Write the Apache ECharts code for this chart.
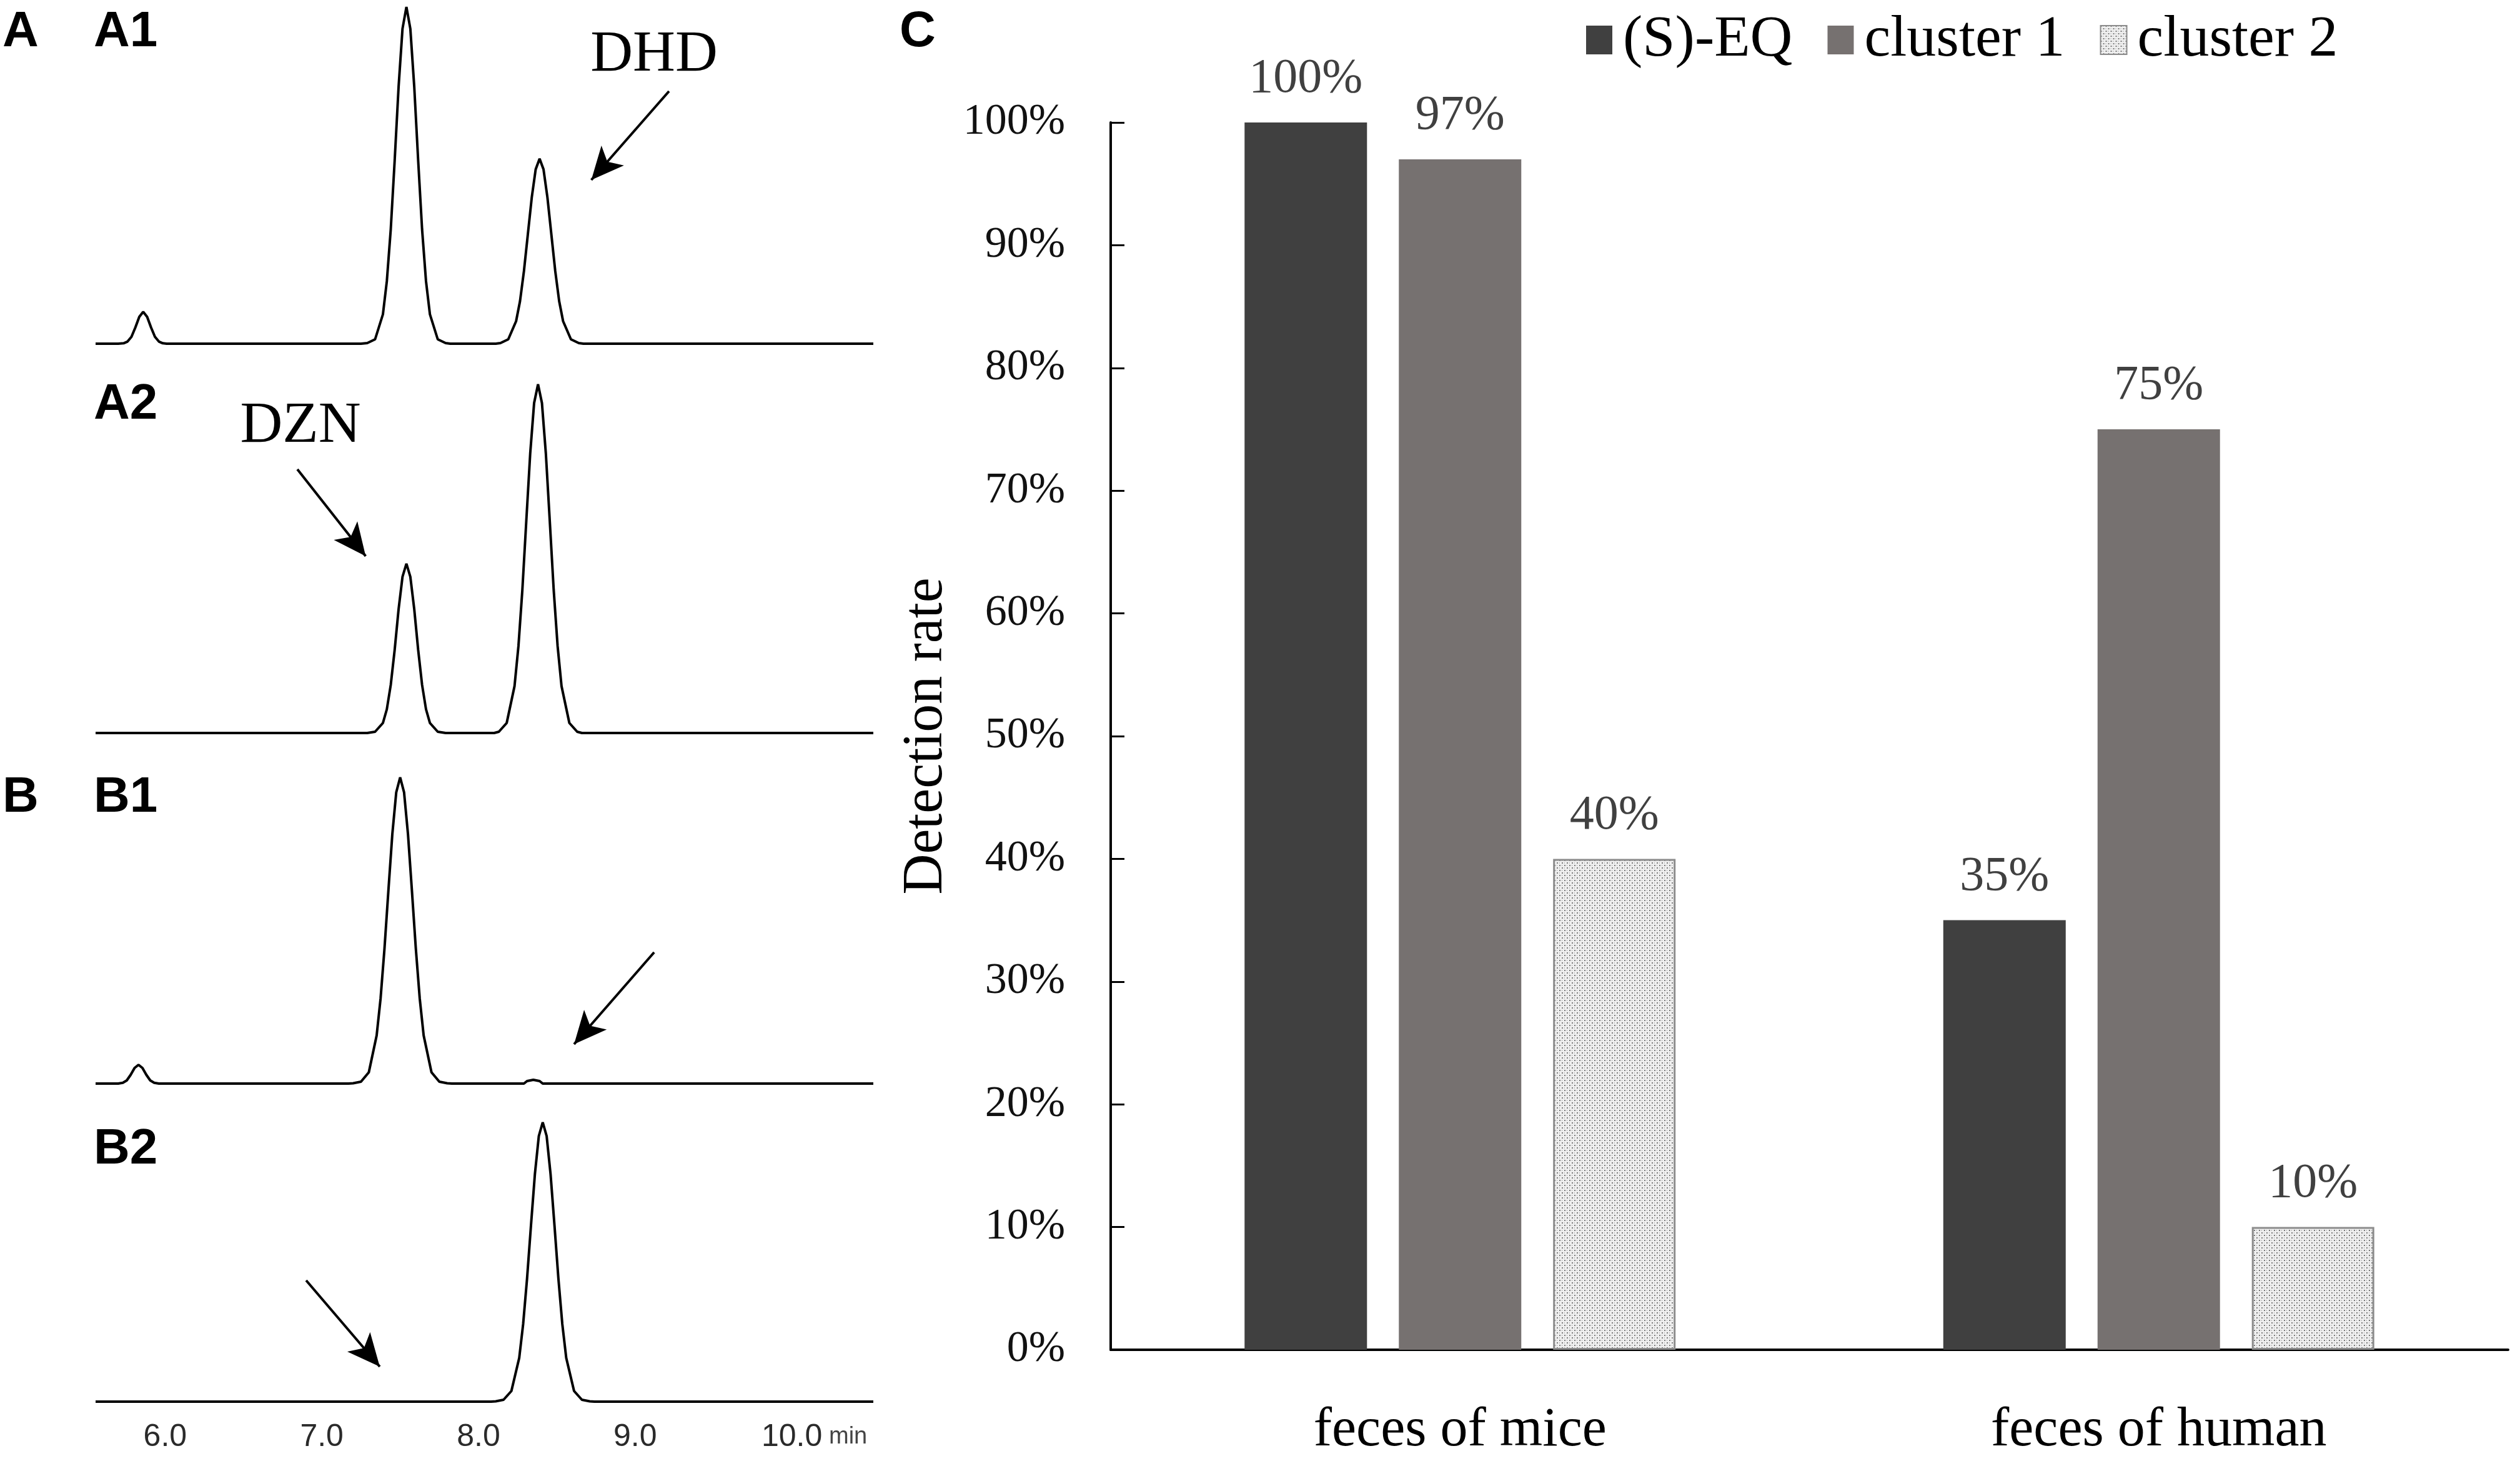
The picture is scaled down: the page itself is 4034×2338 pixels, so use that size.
<!DOCTYPE html>
<html>
<head>
<meta charset="utf-8">
<script src="https://cdn.jsdelivr.net/npm/echarts@6/dist/echarts.min.js"></script>
<style>html,body{margin:0;padding:0;background:#fff;}#c{width:4034px;height:2338px;}</style>
</head>
<body>
<div id="c"></div>
<script>
// ---------- Data: chromatograms (retention time in min, signal) ----------
const timeRange = [5.556, 10.52];
const timeTicks = [6, 7, 8, 9, 10];
const traceA1 = [[5.556,0],[5.70,0],[5.735,0.7],[5.76,3.4],[5.785,11],[5.81,26],[5.835,43],[5.86,51],[5.885,43],[5.91,26],[5.935,11],[5.96,3.4],[5.985,0.7],[6.01,0],
  [7.25,0],[7.29,1],[7.34,7],[7.39,47],[7.415,100],[7.44,183],[7.465,293],[7.49,411],[7.515,504],[7.54,539],[7.565,504],[7.59,411],[7.615,293],[7.64,183],[7.665,100],[7.69,47],[7.74,7],[7.79,1],[7.82,0],
  [8.11,0],[8.14,1],[8.19,7],[8.24,36],[8.265,68],[8.29,116],[8.315,175],[8.34,234],[8.365,279],[8.39,296],[8.415,279],[8.44,234],[8.465,175],[8.49,116],[8.515,68],[8.54,36],[8.59,7],[8.64,1],[8.67,0],[10.52,0]];
const traceA2 = [[5.556,0],[7.26,0],[7.29,0],[7.34,2],[7.39,16],[7.415,38],[7.44,77],[7.465,133],[7.49,198],[7.515,250],[7.54,271],[7.565,250],[7.59,198],[7.615,133],[7.64,77],[7.665,38],[7.69,16],[7.74,2],[7.79,0],
  [8.10,0],[8.13,2],[8.18,16],[8.23,75],[8.255,139],[8.28,229],[8.305,339],[8.33,447],[8.355,528],[8.38,558],[8.405,528],[8.43,447],[8.455,339],[8.48,229],[8.505,139],[8.53,75],[8.58,16],[8.63,2],[8.66,0],[10.52,0]];
const traceB1 = [[5.556,0],[5.70,0],[5.73,1.3],[5.755,5],[5.78,14],[5.805,25],[5.83,30],[5.855,25],[5.88,14],[5.905,5],[5.93,1.3],[5.96,0],
  [7.17,0],[7.2,0.5],[7.25,3],[7.3,18],[7.35,77],[7.375,136],[7.4,216],[7.425,309],[7.45,399],[7.475,466],[7.5,490],[7.525,466],[7.55,399],[7.575,309],[7.6,216],[7.625,136],[7.65,77],[7.7,18],[7.75,3],[7.8,0.5],[7.83,0],
  [8.29,0],[8.31,4],[8.35,6],[8.39,4],[8.41,0],[10.52,0]];
const traceB2 = [[5.556,0],[8.08,0],[8.11,0.5],[8.16,3],[8.21,17],[8.26,70],[8.285,124],[8.31,197],[8.335,282],[8.36,364],[8.385,425],[8.41,447],[8.435,425],[8.46,364],[8.485,282],[8.51,197],[8.535,124],[8.56,70],[8.61,17],[8.66,3],[8.71,0.5],[8.74,0],[10.52,0]];
// arrows in data coordinates [fromTime, fromSignal, toTime, toSignal]
const arrowA1 = [9.216, 404, 8.72, 262];
const arrowA2 = [6.844, 422, 7.28, 283];
const arrowB1 = [9.121, 210, 8.61, 63];
const arrowB2 = [6.900, 194, 7.37, 56];

// ---------- Data: detection rate bars ----------
const groups = ['feces of mice', 'feces of human'];
const seriesNames = ['(S)-EQ', 'cluster 1', 'cluster 2'];
const rateSEQ = [100, 35];
const rateCluster1 = [97, 75];
const rateCluster2 = [40, 10];
const rateTicks = [0, 100, 10];

// ---------- Styling ----------
const chart = echarts.init(document.getElementById('c'), null, {renderer: 'canvas'});

function dotPattern() {
  const cv = document.createElement('canvas');
  cv.width = 8; cv.height = 8;
  const g = cv.getContext('2d');
  g.fillStyle = '#f0f0f0'; g.fillRect(0, 0, 8, 8);
  g.fillStyle = '#7a7a7a';
  g.fillRect(0, 0, 2, 2); g.fillRect(4, 4, 2, 2);
  g.fillStyle = '#b4b4b4';
  g.fillRect(4, 0, 1, 2); g.fillRect(0, 4, 1, 2);
  return cv;
}
const pattern = {image: dotPattern(), repeat: 'repeat'};

const chromGrids = [
  {top: 0, height: 550},
  {top: 603, height: 570},
  {top: 1234, height: 500},
  {top: 1783, height: 460}
];
const traces = [traceA1, traceA2, traceB1, traceB2];
const arrows = [arrowA1, arrowA2, arrowB1, arrowB2];

const grids = chromGrids.map(g => ({left: 153, width: 1245, top: g.top, height: g.height}));
grids.push({left: 1778, right: 19, top: 196, bottom: 178});

const xAxes = chromGrids.map((g, i) => ({
  type: 'value', gridIndex: i, min: timeRange[0], max: timeRange[1],
  axisLine: {show: false}, axisTick: {show: false}, splitLine: {show: false},
  axisLabel: i === 3 ? {
    show: true, customValues: timeTicks, margin: 32,
    formatter: v => v.toFixed(1),
    fontFamily: 'Liberation Sans', fontSize: 50, color: '#2a2a2a'
  } : {show: false}
}));
xAxes.push({
  type: 'category', gridIndex: 4, data: groups,
  axisLine: {show: true, lineStyle: {color: '#000', width: 4}},
  axisTick: {show: false},
  axisLabel: {margin: 86, fontFamily: 'Liberation Serif', fontSize: 88, color: '#000'}
});

const yAxes = chromGrids.map((g, i) => ({
  type: 'value', gridIndex: i, min: 0, max: g.height, show: false
}));
yAxes.push({
  type: 'value', gridIndex: 4, min: rateTicks[0], max: rateTicks[1], interval: rateTicks[2],
  name: 'Detection rate', nameLocation: 'middle', nameGap: 250, nameRotate: 90,
  nameTextStyle: {fontFamily: 'Liberation Serif', fontSize: 90, color: '#000'},
  axisLine: {show: true, lineStyle: {color: '#000', width: 4}},
  axisTick: {show: true, inside: true, length: 22, lineStyle: {color: '#000', width: 3}},
  splitLine: {show: false},
  axisLabel: {margin: 73, formatter: '{value}%', fontFamily: 'Liberation Serif', fontSize: 70, color: '#111'}
});

const series = traces.map((d, i) => ({
  type: 'line', xAxisIndex: i, yAxisIndex: i, data: d, showSymbol: false, clip: false,
  lineStyle: {color: '#000', width: 4}, silent: true,
  markLine: {
    silent: true, symbol: ['none', 'arrow'], symbolSize: [36, 52],
    lineStyle: {color: '#000', width: 4, type: 'solid'}, label: {show: false},
    data: [[{coord: [arrows[i][0], arrows[i][1]]}, {coord: [arrows[i][2], arrows[i][3]]}]]
  }
}));

const barColors = ['#404040', '#767170', pattern];
const barData = [rateSEQ, rateCluster1, rateCluster2];
seriesNames.forEach((name, k) => {
  series.push({
    type: 'bar', name: name, xAxisIndex: 4, yAxisIndex: 4, data: barData[k],
    barWidth: 196, barGap: '26%',
    itemStyle: k === 2 ? {color: pattern, borderColor: '#8c8c8c', borderWidth: 3} : {color: barColors[k]},
    label: {show: true, position: 'top', distance: 30, formatter: '{c}%',
      fontFamily: 'Liberation Serif', fontSize: 78, color: '#404040'}
  });
});

const boldLabel = {fontFamily: 'Liberation Sans', fontWeight: 'bold', fontSize: 80, fill: '#000'};
const panelLabels = [
  ['A', 4, 12], ['A1', 150, 12], ['A2', 150, 608], ['B', 4, 1237], ['B1', 150, 1237], ['B2', 150, 1800], ['C', 1440, 12]
];
const graphic = panelLabels.map(p => ({type: 'text', left: p[1], top: p[2], style: Object.assign({text: p[0]}, boldLabel)}));
graphic.push({type: 'text', x: 1047, y: 88, style: {text: 'DHD', fontFamily: 'Liberation Serif', fontSize: 94, fill: '#000', align: 'center', verticalAlign: 'middle'}});
graphic.push({type: 'text', x: 481, y: 682, style: {text: 'DZN', fontFamily: 'Liberation Serif', fontSize: 94, fill: '#000', align: 'center', verticalAlign: 'middle'}});
graphic.push({type: 'text', x: 1327, y: 2300, style: {text: 'min', fontFamily: 'Liberation Sans', fontSize: 38, fill: '#444', align: 'left', verticalAlign: 'middle'}});

chart.setOption({
  animation: false,
  backgroundColor: '#fff',
  grid: grids,
  xAxis: xAxes,
  yAxis: yAxes,
  legend: {
    data: seriesNames, left: 2534, top: 12, icon: 'rect', itemWidth: 42, itemHeight: 46, itemGap: 56,
    textStyle: {fontFamily: 'Liberation Serif', fontSize: 94, color: '#000', padding: [0, 0, 0, 12]}
  },
  graphic: graphic,
  series: series
});
</script>
</body>
</html>
